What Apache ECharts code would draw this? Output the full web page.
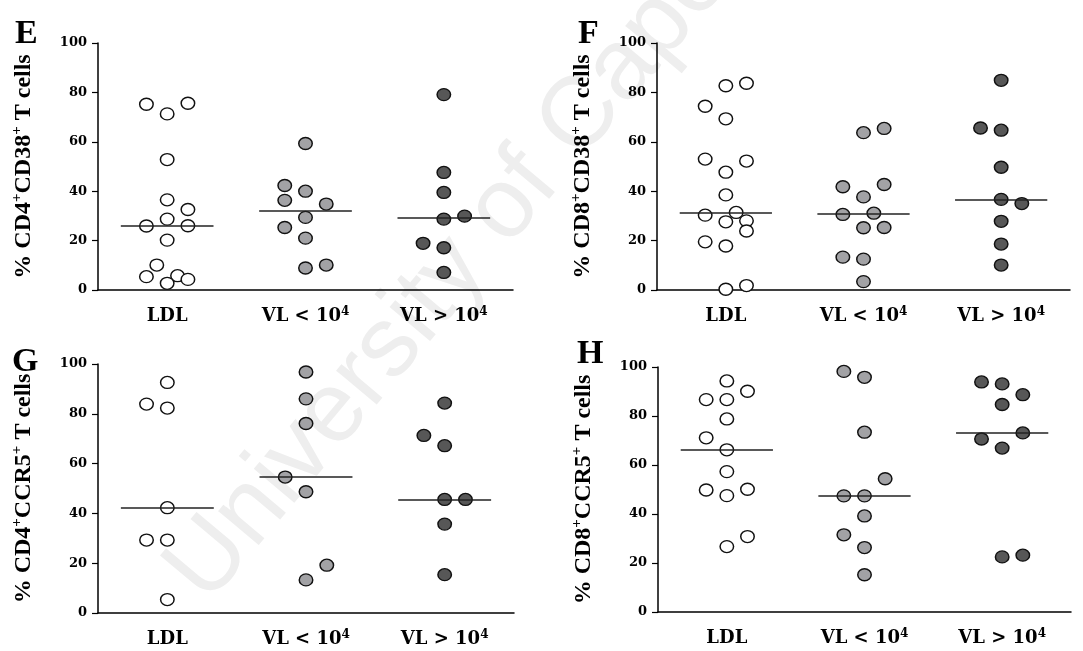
<!DOCTYPE html>
<html>
<head>
<meta charset="utf-8">
<title>Activation and CCR5 expression by viral load group</title>
<script src="https://cdn.jsdelivr.net/npm/echarts@6/dist/echarts.min.js"></script>
<style>
  html, body { margin: 0; padding: 0; background: #ffffff; }
  #chart { width: 1083px; height: 651px; }
</style>
</head>
<body>
<div id="chart"></div>
<script>
// Patient groups on the x axis
const categories = ['LDL', 'VL < 10⁴', 'VL > 10⁴'];
const yTicks = [0, 20, 40, 60, 80, 100];

// Panel E: % CD4+CD38+ T cells
const eLDL      = [75.2, 75.6, 71.3, 52.8, 36.5, 32.6, 28.7, 25.9, 26.0, 20.2, 10.1, 5.4, 5.8, 4.3, 2.7];
const eLDLSlot  = [-2, 2, 0, 0, 0, 2, 0, -2, 2, 0, -1, -2, 1, 2, 0];
const eLow      = [59.3, 42.3, 40.0, 36.3, 34.8, 29.4, 25.3, 21.0, 8.9, 10.1];
const eLowSlot  = [0, -2, 0, -2, 2, 0, -2, 0, 0, 2];
const eHigh     = [79.1, 47.6, 39.5, 28.7, 29.9, 18.9, 17.1, 7.1];
const eHighSlot = [0, 0, 0, 0, 2, -2, 0, 0];

// Panel F: % CD8+CD38+ T cells
const fLDL      = [82.7, 83.7, 74.4, 69.3, 53.0, 52.2, 47.7, 38.5, 30.3, 31.4, 28.0, 27.6, 23.9, 19.5, 17.8, 0.3, 1.8];
const fLDLSlot  = [0, 2, -2, 0, -2, 2, 0, 0, -2, 1, 2, 0, 2, -2, 0, 0, 2];
const fLow      = [63.7, 65.4, 41.8, 42.7, 37.7, 30.6, 31.1, 25.2, 25.3, 13.3, 12.5, 3.4];
const fLowSlot  = [0, 2, -2, 2, 0, -2, 1, 0, 2, -2, 0, 0];
const fHigh     = [84.9, 65.6, 64.7, 49.7, 36.7, 35.0, 27.8, 18.6, 10.1];
const fHighSlot = [0, -2, 0, 0, 0, 2, 0, 0, 0];

// Panel G: % CD4+CCR5+ T cells
const gLDL      = [92.6, 83.9, 82.3, 42.3, 29.3, 29.3, 5.4];
const gLDLSlot  = [0, -2, 0, 0, -2, 0, 0];
const gLow      = [96.8, 86.0, 76.1, 54.6, 48.7, 19.2, 13.3];
const gLowSlot  = [0, 0, 0, -2, 0, 2, 0];
const gHigh     = [84.3, 71.3, 67.2, 45.6, 45.6, 35.7, 15.4];
const gHighSlot = [0, -2, 0, 0, 2, 0, 0];

// Panel H: % CD8+CCR5+ T cells
const hLDL      = [94.3, 90.1, 86.7, 86.7, 78.8, 71.1, 66.2, 57.3, 49.8, 50.1, 47.5, 30.8, 26.7];
const hLDLSlot  = [0, 2, -2, 0, 0, -2, 0, 0, -2, 2, 0, 2, 0];
const hLow      = [98.2, 95.8, 73.4, 54.4, 47.4, 47.4, 39.2, 31.5, 26.3, 15.2];
const hLowSlot  = [-2, 0, 0, 2, -2, 0, 0, -2, 0, 0];
const hHigh     = [93.9, 93.1, 88.7, 84.7, 70.6, 66.9, 73.1, 22.5, 23.2];
const hHighSlot = [-2, 0, 2, 0, -2, 0, 2, 0, 2];

const panelLetters = ['E', 'F', 'G', 'H'];
const panelTitles = [
  ['% CD4', '+', 'CD38', '+', ' T cells'],
  ['% CD8', '+', 'CD38', '+', ' T cells'],
  ['% CD4', '+', 'CCR5', '+', ' T cells'],
  ['% CD8', '+', 'CCR5', '+', ' T cells']
];
const panelData = [
  [[eLDL, eLDLSlot], [eLow, eLowSlot], [eHigh, eHighSlot]],
  [[fLDL, fLDLSlot], [fLow, fLowSlot], [fHigh, fHighSlot]],
  [[gLDL, gLDLSlot], [gLow, gLowSlot], [gHigh, gHighSlot]],
  [[hLDL, hLDLSlot], [hLow, hLowSlot], [hHigh, hHighSlot]]
];

// ---- layout & style ----
const grids = [
  { left: 98,  top: 43,  width: 415, height: 247 },
  { left: 657, top: 43,  width: 413, height: 247 },
  { left: 98,  top: 364, width: 416, height: 249 },
  { left: 658, top: 367, width: 413, height: 245 }
];
const letterPos = [[15, 17], [578, 17], [12, 345], [577, 337]];
const groupFill = ['#ffffff', '#a2a2a5', '#575757'];
const SLOT = 0.075;        // horizontal spread of overlapping points, in category widths
const HALF_LINE = 0.335;   // half length of the median bar, in category widths
const SERIF = '"Liberation Serif", "Times New Roman", serif';
const WIDE_SERIF = '"DejaVu Serif", serif';

function median(arr) {
  const s = arr.slice().sort((a, b) => a - b);
  const n = s.length;
  return n % 2 ? s[(n - 1) / 2] : (s[n / 2 - 1] + s[n / 2]) / 2;
}

function labelFormatter(v) {
  return v.indexOf('⁴') >= 0 ? '{b|' + v.replace('⁴', '') + '}{sup|4}' : '{b|' + v + '}';
}

const xAxes = [], yAxes = [], series = [], titles = [];

panelData.forEach((groups, p) => {
  xAxes.push({
    type: 'category', gridIndex: p, data: categories, boundaryGap: true,
    axisLine: { onZero: false, lineStyle: { color: '#000', width: 1.5 } },
    axisTick: { alignWithLabel: true, length: 7, lineStyle: { color: '#000', width: 1.2 } },
    axisLabel: {
      margin: 16, formatter: labelFormatter, color: '#000',
      rich: {
        b:   { fontFamily: WIDE_SERIF, fontWeight: 'bold', fontSize: 18, lineHeight: 21, color: '#000' },
        sup: { fontFamily: WIDE_SERIF, fontWeight: 'bold', fontSize: 12, lineHeight: 12, verticalAlign: 'top', color: '#000' }
      }
    },
    splitLine: { show: false }
  });
  xAxes.push({ type: 'value', gridIndex: p, min: -0.5, max: 2.5, show: false });

  const t = panelTitles[p];
  yAxes.push({
    type: 'value', gridIndex: p, min: yTicks[0], max: yTicks[yTicks.length - 1], interval: 20,
    axisLine: { show: true, onZero: false, lineStyle: { color: '#000', width: 1.5 } },
    axisTick: { show: true, length: 6, lineStyle: { color: '#000', width: 1.2 } },
    axisLabel: { margin: 11, color: '#000', fontFamily: WIDE_SERIF, fontWeight: 'bold', fontSize: 13 },
    splitLine: { show: false },
    name: '{b|' + t[0] + '}{sup|' + t[1] + '}{b|' + t[2] + '}{sup|' + t[3] + '}{b|' + t[4] + '}',
    nameLocation: 'middle', nameRotate: 90, nameGap: 61,
    nameTextStyle: {
      color: '#000',
      rich: {
        b:   { fontFamily: SERIF, fontWeight: 'bold', fontSize: 24, lineHeight: 27, color: '#000' },
        sup: { fontFamily: SERIF, fontWeight: 'bold', fontSize: 15, lineHeight: 15, verticalAlign: 'top', color: '#000' }
      }
    }
  });

  groups.forEach(([vals, slots], g) => {
    const m = median(vals);
    series.push({
      type: 'scatter', xAxisIndex: 2 * p + 1, yAxisIndex: p,
      data: vals.map((v, k) => [g + slots[k] * SLOT, v]),
      symbol: 'circle', symbolSize: [13.5, 12],
      itemStyle: { color: groupFill[g], borderColor: '#111', borderWidth: 1.4, opacity: 1 },
      markLine: {
        silent: true, symbol: 'none', z: 5, animation: false,
        label: { show: false },
        lineStyle: { color: '#222', width: 1.6, type: 'solid' },
        data: [[{ coord: [g - HALF_LINE, m] }, { coord: [g + HALF_LINE, m] }]]
      }
    });
  });

  titles.push({
    text: panelLetters[p], left: letterPos[p][0], top: letterPos[p][1], padding: 0,
    textStyle: { fontFamily: SERIF, fontWeight: 'bold', fontSize: 34, color: '#000' }
  });
});

const chart = echarts.init(document.getElementById('chart'), null, { renderer: 'canvas' });
chart.setOption({
  backgroundColor: '#ffffff',
  animation: false,
  title: titles,
  grid: grids,
  xAxis: xAxes,
  yAxis: yAxes,
  series: series,
  graphic: [{
    type: 'text', z: -10, silent: true,
    x: 225, y: 620, rotation: 50 * Math.PI / 180,
    style: {
      text: 'University of Cape Town',
      font: '100px "Liberation Sans", Arial, sans-serif',
      fill: '#eeeeee', textAlign: 'left', textVerticalAlign: 'bottom'
    }
  }]
});
</script>
</body>
</html>
